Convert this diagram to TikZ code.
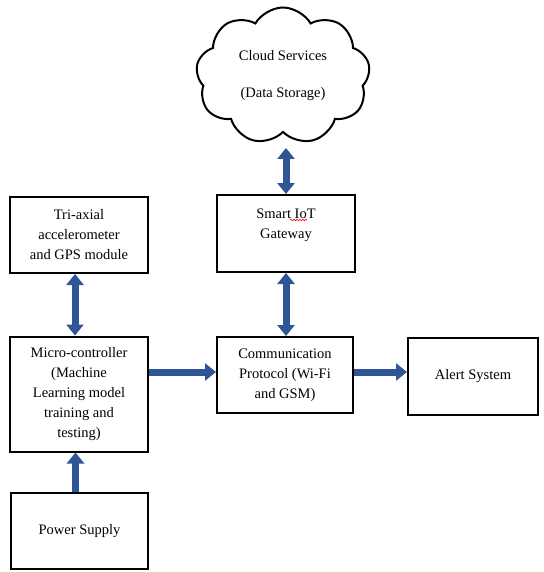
\documentclass[tikz,border=0pt]{standalone}
\usepackage{fontspec}
\setmainfont{Liberation Serif}
\usetikzlibrary{arrows.meta,shapes.symbols,decorations.pathmorphing}
\definecolor{arrowblue}{RGB}{47,85,151}
\tikzset{
  box/.style={draw=black, line width=2pt, fill=white, align=center,
    font=\fontsize{14.5}{20}\selectfont, inner sep=2pt},
  fat/.style={line width=7pt, draw=arrowblue},
  tip/.tip={Triangle[length=11pt,width=17pt]},
}
\begin{document}
\begin{tikzpicture}[x=1pt,y=-1pt]
\useasboundingbox (0,0) rectangle (543,572);
% nodes
\node[box, minimum width=138pt, minimum height=76pt] (tri) at (79,235) {Tri-axial\\accelerometer\\and GPS module};
\node[box, minimum width=138pt, minimum height=115pt] (micro) at (79,394) {Micro-controller\\(Machine\\Learning model\\training and\\testing)};
\node[box, minimum width=137pt, minimum height=76pt] (power) at (79.5,531) {Power Supply};
\node[box, minimum width=138pt, minimum height=77pt] (smart) at (286,233.5) {Smart IoT\\Gateway\\\mbox{}};
\node[box, minimum width=136pt, minimum height=76pt] (comm) at (285,375) {Communication\\Protocol (Wi-Fi\\and GSM)};
\node[box, minimum width=130pt, minimum height=77pt] (alert) at (473,376) {Alert System};
\node[cloud, cloud puffs=9, cloud puff arc=120, aspect=1.25, shape border rotate=-10,
  draw=black, line width=2pt,
  minimum width=174pt, minimum height=137pt, inner sep=0pt, align=center,
  font=\fontsize{14.5}{20}\selectfont] (cloud) at (283,76) {Cloud Services\\[17pt](Data Storage)};
\coordinate (cloudfoot) at ([yshift=-72pt]cloud.center);
% spell-check squiggle under IoT
\coordinate (sq1) at (290,220);
\coordinate (sq2) at (307,220);
\draw[red, line width=0.6pt, decorate, decoration={snake, amplitude=0.8pt, segment length=3pt}] (sq1) -- (sq2);
% arrows
\draw[fat, tip-tip] (cloudfoot -| smart.north) -- (smart.north);
\draw[fat, tip-tip] (smart.south) -- (smart.south |- comm.north);
\draw[fat, tip-tip] ([xshift=-4pt]tri.south) -- ([xshift=-4pt]tri.south |- micro.north);
\draw[fat, -tip] ([xshift=-4pt]power.north) -- ([xshift=-4pt]power.north |- micro.south);
\draw[fat, -tip] ([yshift=3pt]micro.east |- comm.west) -- ([yshift=3pt]comm.west);
\draw[fat, -tip] ([yshift=3pt]comm.east) -- ([yshift=3pt]comm.east -| alert.west);
\end{tikzpicture}
\end{document}
